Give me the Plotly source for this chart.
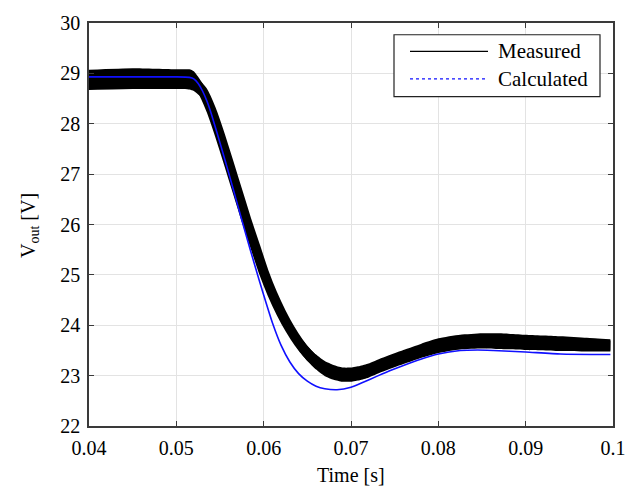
import plotly.graph_objects as go

# ---------------- data ----------------
# Measured output voltage: centre of the noisy band and its envelope
t_meas = [0.0400, 0.0450, 0.0500, 0.0515, 0.0520, 0.0530, 0.0540, 0.0550, 0.0560,
          0.0570, 0.0580, 0.0590, 0.0600, 0.0610, 0.0620, 0.0630, 0.0640, 0.0650,
          0.0660, 0.0670, 0.0680, 0.0690, 0.0700, 0.0710, 0.0720, 0.0735, 0.0760,
          0.0780, 0.0800, 0.0825, 0.0850, 0.0870, 0.0900, 0.0940, 0.0970, 0.0997]
v_meas = [28.87, 28.89, 28.88, 28.87, 28.84, 28.65, 28.27, 27.77, 27.22,
          26.66, 26.10, 25.58, 25.06, 24.62, 24.25, 23.93, 23.66, 23.44,
          23.27, 23.14, 23.06, 23.02, 23.02, 23.05, 23.10, 23.21, 23.37,
          23.49, 23.59, 23.66, 23.69, 23.68, 23.66, 23.63, 23.61, 23.60]
v_meas_hi = [29.07, 29.10, 29.08, 29.08, 29.04, 28.80, 28.42, 27.92, 27.37,
             26.81, 26.25, 25.73, 25.21, 24.77, 24.40, 24.08, 23.81, 23.59,
             23.42, 23.29, 23.21, 23.16, 23.16, 23.19, 23.24, 23.35, 23.51,
             23.63, 23.74, 23.81, 23.84, 23.84, 23.81, 23.78, 23.75, 23.72]
v_meas_lo = [28.67, 28.69, 28.69, 28.68, 28.65, 28.50, 28.12, 27.62, 27.07,
             26.51, 25.95, 25.43, 24.91, 24.47, 24.10, 23.78, 23.51, 23.29,
             23.12, 22.99, 22.92, 22.88, 22.88, 22.91, 22.96, 23.07, 23.23,
             23.35, 23.45, 23.52, 23.54, 23.53, 23.51, 23.49, 23.48, 23.48]

# Calculated output voltage
t_calc = [0.0400, 0.0500, 0.0515, 0.0520, 0.0525, 0.0530, 0.0535, 0.0540, 0.0550,
          0.0560, 0.0570, 0.0580, 0.0590, 0.0600, 0.0610, 0.0620, 0.0630, 0.0640,
          0.0650, 0.0660, 0.0670, 0.0684, 0.0700, 0.0714, 0.0730, 0.0745, 0.0760,
          0.0779, 0.0800, 0.0825, 0.0845, 0.0863, 0.0900, 0.0940, 0.0997]
v_calc = [28.93, 28.93, 28.92, 28.89, 28.80, 28.65, 28.45, 28.20, 27.62,
          27.02, 26.40, 25.78, 25.18, 24.60, 24.05, 23.60, 23.27, 23.04,
          22.89, 22.79, 22.74, 22.72, 22.77, 22.87, 22.99, 23.10, 23.20,
          23.32, 23.43, 23.50, 23.51, 23.50, 23.47, 23.43, 23.42]

x_ticks = [0.04, 0.05, 0.06, 0.07, 0.08, 0.09, 0.1]
x_ticklabels = ["0.04", "0.05", "0.06", "0.07", "0.08", "0.09", "0.1"]
y_ticks = [22, 23, 24, 25, 26, 27, 28, 29, 30]
series_names = ["Measured", "Calculated"]

FONT = "'Liberation Serif', 'Times New Roman', Times, 'DejaVu Serif', serif"
AX = "#3a3a3a"

fig = go.Figure()
# noisy band of the measurement
fig.add_trace(go.Scatter(x=t_meas, y=v_meas_hi, mode="lines",
                         line=dict(width=0, color="black", shape="spline", smoothing=0.5),
                         showlegend=False, hoverinfo="skip"))
fig.add_trace(go.Scatter(x=t_meas, y=v_meas_lo, mode="lines", fill="tonexty",
                         fillcolor="black",
                         line=dict(width=0, color="black", shape="spline", smoothing=0.5),
                         showlegend=False, hoverinfo="skip"))
fig.add_trace(go.Scatter(x=t_meas, y=v_meas, mode="lines", name=series_names[0],
                         line=dict(color="black", width=10, shape="spline", smoothing=0.5),
                         showlegend=False))
fig.add_trace(go.Scatter(x=t_calc, y=v_calc, mode="lines", name=series_names[1],
                         line=dict(color="#1010ff", width=1.6, shape="spline", smoothing=0.5),
                         showlegend=False))

# ------------- legend box drawn as layout decoration -------------
L, R, T, B = 89, 613, 15, 426
W, H = R - L, B - T
def px(x):
    return (x - L) / W
def py(y):
    return (B - y) / H

shapes = [
    dict(type="rect", xref="paper", yref="paper", x0=px(394), x1=px(600),
         y0=py(90), y1=py(27), line=dict(color="#222", width=1.2), fillcolor="white",
         layer="above"),
    dict(type="line", xref="paper", yref="paper", x0=px(410), x1=px(488),
         y0=py(44), y1=py(44), line=dict(color="black", width=1.3), layer="above"),
    dict(type="line", xref="paper", yref="paper", x0=px(410), x1=px(488),
         y0=py(72), y1=py(72), line=dict(color="#1010ff", width=1.2, dash="dot"),
         layer="above"),
]
annotations = [
    dict(text=series_names[0], xref="paper", yref="paper", x=px(496), y=py(44),
         xanchor="left", yanchor="middle", showarrow=False,
         font=dict(family=FONT, size=21, color="black")),
    dict(text=series_names[1], xref="paper", yref="paper", x=px(496), y=py(72),
         xanchor="left", yanchor="middle", showarrow=False,
         font=dict(family=FONT, size=21, color="black")),
    dict(text="Time [s]", xref="paper", yref="paper", x=0.5, y=py(476),
         xanchor="center", yanchor="middle", showarrow=False,
         font=dict(family=FONT, size=20, color="black")),
    dict(text="V<sub>out</sub> [V]", xref="paper", yref="paper", x=px(30), y=py(222),
         xanchor="center", yanchor="middle", showarrow=False, textangle=-90,
         font=dict(family=FONT, size=20, color="black")),
]

fig.update_layout(
    width=639, height=487,
    margin=dict(l=L, r=639 - R, t=T, b=487 - B),
    paper_bgcolor="white", plot_bgcolor="white",
    font=dict(family=FONT, size=20, color="black"),
    showlegend=False,
    shapes=shapes, annotations=annotations,
)
fig.update_xaxes(range=[0.04, 0.1], tickvals=x_ticks, ticktext=x_ticklabels,
                 showgrid=True, gridcolor="#e3e3e3", gridwidth=1,
                 showline=True, linecolor=AX, linewidth=1.5, mirror="ticks",
                 ticks="inside", ticklen=5, tickcolor=AX, tickwidth=1.2,
                 zeroline=False, ticklabelstandoff=3,
                 tickfont=dict(family=FONT, size=20, color="black"))
fig.update_yaxes(range=[22, 30], tickvals=y_ticks,
                 showgrid=True, gridcolor="#e3e3e3", gridwidth=1,
                 showline=True, linecolor=AX, linewidth=1.5, mirror="ticks",
                 ticks="inside", ticklen=5, tickcolor=AX, tickwidth=1.2,
                 zeroline=False, ticklabelstandoff=3,
                 tickfont=dict(family=FONT, size=20, color="black"))

fig.write_html("out.html")
